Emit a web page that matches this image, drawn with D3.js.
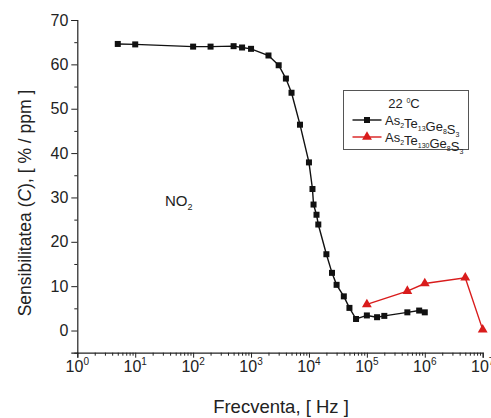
<!DOCTYPE html>
<html>
<head>
<meta charset="utf-8">
<script src="https://cdn.jsdelivr.net/npm/d3@7"></script>
<style>
  body { margin: 0; background: #fff; }
  text { font-family: "Liberation Sans", Arial, sans-serif; fill: #222; }
</style>
</head>
<body>
<div id="chart"></div>
<script>
// data
const freqA = [5, 10, 100, 200, 500, 700, 1000, 2000, 3000, 4000, 5000, 7000, 10000,
  11500, 12000, 13500, 14500, 20000, 25000, 30000, 40000, 50000, 65000,
  100000, 150000, 200000, 500000, 800000, 1000000];
const sensA = [64.6, 64.5, 64.0, 64.0, 64.1, 63.8, 63.5, 62.0, 59.8, 56.8, 53.6, 46.4, 37.9,
  31.9, 28.4, 26.1, 23.9, 17.2, 13.0, 10.3, 7.7, 5.1, 2.6,
  3.4, 3.0, 3.3, 4.1, 4.5, 4.1];
const freqB = [100000, 500000, 1000000, 5000000, 10000000];
const sensB = [5.9, 8.9, 10.6, 11.9, 0.2];
const yTicks = [0, 10, 20, 30, 40, 50, 60, 70];
const xExponents = [0, 1, 2, 3, 4, 5, 6, 7];

const W = 491, H = 418;
const margin = { LEFT: 77.3, RIGHT: 8.3, TOP: 20, BOTTOM: 65.3 };

const svg = d3.select("#chart").append("svg")
  .attr("width", W)
  .attr("height", H);

const x = d3.scaleLog().domain([1, 1e7]).range([margin.LEFT, W - margin.RIGHT]);
const y = d3.scaleLinear().domain([-5, 70]).range([H - margin.BOTTOM, margin.TOP]);

// x axis: major decades + minor ticks
const minorX = [];
xExponents.slice(0, -1).forEach(e => {
  for (let k = 2; k <= 9; k++) minorX.push(k * Math.pow(10, e));
});

const xAxisG = svg.append("g").attr("transform", `translate(0, ${y(-5)})`);
xAxisG.call(d3.axisBottom(x).tickValues(xExponents.map(e => Math.pow(10, e)))
  .tickSize(5).tickFormat(""));
xAxisG.append("g").call(d3.axisBottom(x).tickValues(minorX).tickSize(3).tickFormat(""))
  .select(".domain").remove();
xAxisG.selectAll(".domain").attr("stroke", "#222").attr("stroke-width", 1.2);
xAxisG.selectAll(".tick line").attr("stroke", "#222");

xExponents.forEach(e => {
  const t = xAxisG.append("text")
    .attr("x", x(Math.pow(10, e)))
    .attr("y", 19)
    .attr("text-anchor", "middle")
    .attr("font-size", "16px");
  t.append("tspan").text("10");
  t.append("tspan").attr("font-size", "10px").attr("dy", -7).text(e);
});

// y axis
const minorY = d3.range(-5, 70, 10);
const yAxisG = svg.append("g").attr("transform", `translate(${margin.LEFT}, 0)`);
yAxisG.call(d3.axisLeft(y).tickValues(yTicks).tickSize(6).tickPadding(3));
yAxisG.append("g").call(d3.axisLeft(y).tickValues(minorY).tickSize(3).tickFormat(""))
  .select(".domain").remove();
yAxisG.selectAll(".domain").attr("stroke", "#222").attr("stroke-width", 1.2);
yAxisG.selectAll(".tick line").attr("stroke", "#222");
yAxisG.selectAll(".tick text")
  .attr("font-size", "16px")
  .attr("font-family", "Liberation Sans, Arial, sans-serif")
  .attr("fill", "#222");

// axis titles
svg.append("text")
  .attr("x", 281)
  .attr("y", 413)
  .attr("text-anchor", "middle")
  .attr("font-size", "18.5px")
  .text("Frecventa, [ Hz ]");

const yLabel = svg.append("text")
  .attr("transform", "translate(31, 203) rotate(-90)")
  .attr("text-anchor", "middle")
  .attr("font-size", "17.5px");
yLabel.append("tspan").text("Sensibilitatea (");
yLabel.append("tspan").attr("font-style", "italic").text("C");
yLabel.append("tspan").text("), [ % / ppm ]");

// series
const dataA = freqA.map((f, i) => ({ f: f, s: sensA[i] }));
const dataB = freqB.map((f, i) => ({ f: f, s: sensB[i] }));
const line = d3.line().x(d => x(d.f)).y(d => y(d.s));

svg.append("path")
  .attr("d", line(dataA))
  .attr("fill", "none")
  .attr("stroke", "#111")
  .attr("stroke-width", 1.4);
svg.selectAll(".sq").data(dataA).enter().append("rect")
  .attr("class", "sq")
  .attr("x", d => x(d.f) - 3)
  .attr("y", d => y(d.s) - 3)
  .attr("width", 6)
  .attr("height", 6)
  .attr("fill", "#111");

svg.append("path")
  .attr("d", line(dataB))
  .attr("fill", "none")
  .attr("stroke", "#d91c1c")
  .attr("stroke-width", 1.4);
const tri = d3.symbol().type(d3.symbolTriangle).size(42);
svg.selectAll(".tri").data(dataB).enter().append("path")
  .attr("class", "tri")
  .attr("transform", d => `translate(${x(d.f)}, ${y(d.s)})`)
  .attr("d", tri)
  .attr("fill", "#d91c1c");

// NO2 annotation
const no2 = svg.append("text")
  .attr("x", 165)
  .attr("y", 206)
  .attr("font-size", "15px");
no2.append("tspan").text("NO");
no2.append("tspan").attr("font-size", "9px").attr("dy", 4).text("2");

// legend
const leg = svg.append("g");
leg.append("rect")
  .attr("x", 343.5).attr("y", 90.5)
  .attr("width", 125).attr("height", 59)
  .attr("fill", "#fff")
  .attr("stroke", "#555");

const legTitle = leg.append("text")
  .attr("x", 404).attr("y", 108)
  .attr("text-anchor", "middle")
  .attr("font-size", "13px");
legTitle.append("tspan").text("22 ");
legTitle.append("tspan").attr("font-size", "7px").attr("dy", -5).text("0");
legTitle.append("tspan").attr("dy", 5).text("C");

function formula(g, yPos, parts) {
  const t = g.append("text").attr("x", 385).attr("y", yPos).attr("font-size", "13px");
  parts.forEach(p => {
    t.append("tspan").text(p[0]);
    t.append("tspan").attr("font-size", "7px").attr("dy", 3).text(p[1]);
    t.append("tspan").attr("dy", -3).text("");
  });
}

const legItems = [
  { y: 120, color: "#111", sym: "square", parts: [["As", "2"], ["Te", "13"], ["Ge", "8"], ["S", "3"]] },
  { y: 137, color: "#d91c1c", sym: "triangle", parts: [["As", "2"], ["Te", "130"], ["Ge", "8"], ["S", "3"]] }
];
legItems.forEach(it => {
  leg.append("line")
    .attr("x1", 352.5).attr("x2", 381.5)
    .attr("y1", it.y).attr("y2", it.y)
    .attr("stroke", it.color).attr("stroke-width", 1.4);
  if (it.sym === "square") {
    leg.append("rect").attr("x", 364).attr("y", it.y - 3).attr("width", 6).attr("height", 6).attr("fill", it.color);
  } else {
    leg.append("path").attr("transform", `translate(367, ${it.y})`).attr("d", tri).attr("fill", it.color);
  }
  formula(leg, it.y + 4.5, it.parts);
});
</script>
</body>
</html>
